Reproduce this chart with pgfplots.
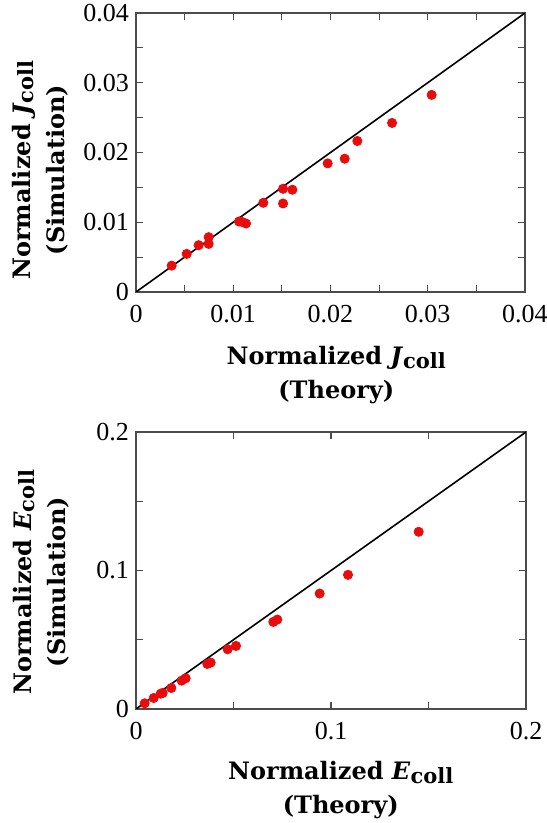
\documentclass[border=0pt]{standalone}
\usepackage{fontspec}
\setmainfont{Liberation Serif}
\newfontfamily\labelfont{DejaVu Serif}
\usepackage{pgfplots}
\pgfplotsset{compat=1.18}
\definecolor{dotred}{RGB}{232,12,12}
\newcommand{\lab}[1]{Normalized \textit{#1}\raisebox{-0.3ex}{\fontsize{10.5}{10.5}\selectfont coll}}
\pgfplotsset{mystyle/.style={
  scale only axis,
  axis line style={black!70, line width=0.6pt},
  every tick/.style={black!70, line width=0.6pt},
  tick align=inside, tick pos=both,
  major tick length=3.5pt, minor tick length=3.5pt,
  minor tick num=1,
  scaled ticks=false,
  /pgf/number format/assume math mode=true,
  /pgf/number format/fixed,
  /pgf/number format/precision=2,
  ticklabel style={font=\fontsize{13}{14}\selectfont},
  xticklabel style={yshift=-3pt},
  xlabel style={align=center, anchor=center, font=\labelfont\bfseries\fontsize{12}{17}\selectfont},
  ylabel style={align=center, anchor=center, font=\labelfont\bfseries\fontsize{12}{17}\selectfont},
}}
\begin{document}
\begin{tikzpicture}
\useasboundingbox (0,0) rectangle (273pt,411.5pt);
\begin{axis}[mystyle,
  at={(68pt,265.5pt)}, anchor=south west,
  width=194.5pt, height=139.5pt,
  xmin=0, xmax=0.04, ymin=0, ymax=0.04,
  xtick={0,0.01,0.02,0.03,0.04}, ytick={0,0.01,0.02,0.03,0.04},
  xlabel={\lab{J}\\(Theory)},
  ylabel={\lab{J}\\(Simulation)},
  xlabel style={at={(axis description cs:0.515,-0.297)}},
  ylabel style={at={(axis description cs:-0.247,0.437)}},
]
\addplot[black, line width=0.8pt] coordinates {(0,0) (0.04,0.04)};
\addplot[only marks, mark=*, mark size=2.3pt, dotred, mark options={draw=dotred, fill=dotred}] coordinates {
(0.00367,0.00378)
(0.00521,0.00546)
(0.00644,0.00671)
(0.00747,0.00786)
(0.00747,0.00690)
(0.01059,0.01011)
(0.01090,0.01005)
(0.01131,0.00982)
(0.01309,0.01279)
(0.01512,0.01480)
(0.01512,0.01269)
(0.01608,0.01466)
(0.01971,0.01844)
(0.02146,0.01911)
(0.02276,0.02165)
(0.02633,0.02424)
(0.03040,0.02826)
};
\end{axis}
\begin{axis}[mystyle,
  at={(68pt,57pt)}, anchor=south west,
  width=195pt, height=138.5pt,
  xmin=0, xmax=0.2, ymin=0, ymax=0.2,
  xtick={0,0.1,0.2}, ytick={0,0.1,0.2},
  xlabel={\lab{E}\\(Theory)},
  ylabel={\lab{E}\\(Simulation)},
  xlabel style={at={(axis description cs:0.525,-0.292)}},
  ylabel style={at={(axis description cs:-0.244,0.458)}},
]
\addplot[black, line width=0.8pt] coordinates {(0,0) (0.2,0.2)};
\addplot[only marks, mark=*, mark size=2.3pt, dotred, mark options={draw=dotred, fill=dotred}] coordinates {
(0.00444,0.00410)
(0.00906,0.00795)
(0.01265,0.01108)
(0.01368,0.01157)
(0.01812,0.01518)
(0.02342,0.02048)
(0.02547,0.02217)
(0.03658,0.03253)
(0.03829,0.03350)
(0.04701,0.04313)
(0.05128,0.04554)
(0.07043,0.06289)
(0.07248,0.06458)
(0.09419,0.08337)
(0.10872,0.09687)
(0.14496,0.12795)
};
\end{axis}
\end{tikzpicture}
\end{document}
